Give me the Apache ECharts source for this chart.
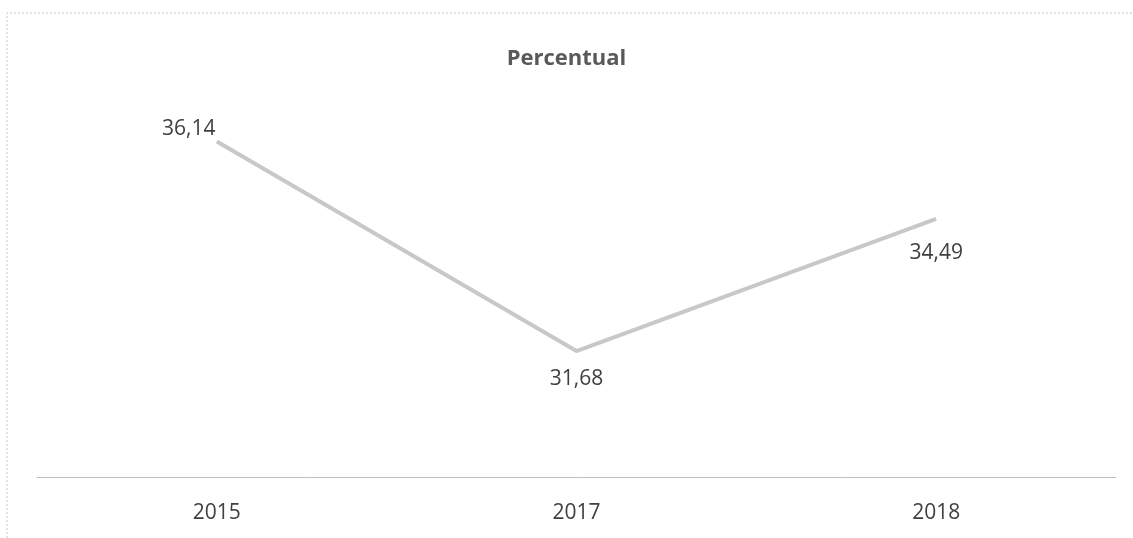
<!DOCTYPE html>
<html>
<head>
<meta charset="utf-8">
<script src="https://cdn.jsdelivr.net/npm/echarts@6/dist/echarts.min.js"></script>
<style>html,body{margin:0;padding:0;background:#fff}#c{width:1133px;height:538px}</style>
</head>
<body>
<div id="c"></div>
<script>
const categories = ['2015', '2017', '2018'];
const values = [36.14, 31.68, 34.49];
const valueLabels = ['36,14', '31,68', '34,49'];
const titleText = 'Percentual';

const chart = echarts.init(document.getElementById('c'));
const fontFam = '"Open Sans", "Noto Sans", sans-serif';
chart.setOption({
  backgroundColor: '#ffffff',
  animation: false,
  title: {
    text: titleText, left: 'center', top: 43,
    textStyle: { fontFamily: fontFam, fontSize: 22, fontWeight: 'bold', color: '#595959' }
  },
  graphic: [{
    type: 'polyline', silent: true,
    shape: { points: [[7, 538], [7, 13], [1133, 13]] },
    style: { stroke: '#c4c4c4', lineWidth: 1, lineDash: [2, 2], fill: null }
  }],
  grid: { left: 37, right: 17, top: 7, bottom: 61 },
  xAxis: {
    type: 'category', data: categories, boundaryGap: true,
    axisLine: { lineStyle: { color: '#bfbfbf', width: 1 } },
    axisTick: { show: false },
    axisLabel: { color: '#404040', fontSize: 21, fontFamily: fontFam, margin: 26 }
  },
  yAxis: {
    type: 'value', min: 29, max: 39, show: false,
    splitLine: { show: false }
  },
  series: [{
    type: 'line',
    data: values.map((v, i) => ({
      value: v,
      label: i === 0
        ? { position: 'top', offset: [-28, 3], distance: 4 }
        : { position: 'bottom', distance: i === 1 ? 17 : 23 }
    })),
    symbol: 'circle',
    symbolSize: 1,
    showSymbol: true,
    itemStyle: { color: 'rgba(0,0,0,0)', opacity: 1 },
    lineStyle: { color: '#c8c8c8', width: 4 },
    label: {
      show: true, fontSize: 21, fontFamily: fontFam, color: '#404040',
      formatter: p => valueLabels[p.dataIndex]
    }
  }]
});
</script>
</body>
</html>
